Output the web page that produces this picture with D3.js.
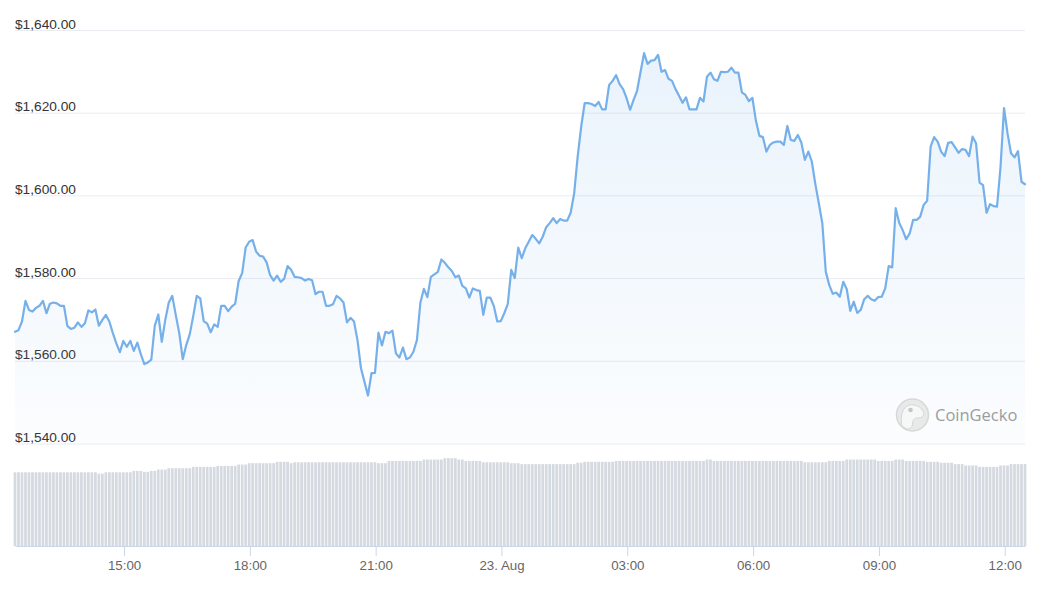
<!DOCTYPE html>
<html>
<head>
<meta charset="utf-8">
<script src="https://cdn.jsdelivr.net/npm/d3@7"></script>
<style>
  html, body { margin: 0; padding: 0; background: #fff; }
  svg { display: block; font-family: "Liberation Sans", Arial, Helvetica, sans-serif; }
</style>
</head>
<body>
<svg id="chart" width="1042" height="591"></svg>
<script>
// ETH / USD, 24h, 5 minute samples
var startTime = new Date(2022, 7, 22, 12, 24)
  , stepMinutes = 5
  ;

var prices = [
  1567.0, 1567.4, 1569.5, 1574.5, 1572.3, 1571.9, 1572.8, 1573.3, 1574.5, 1571.5,
  1573.8, 1574.1, 1573.9, 1573.3, 1573.3, 1568.4, 1567.7, 1568.0, 1569.3, 1568.2,
  1569.1, 1572.2, 1571.7, 1572.4, 1568.5, 1569.9, 1571.1, 1569.5, 1566.7, 1564.2,
  1562.1, 1564.8, 1563.4, 1564.8, 1562.4, 1564.4, 1561.6, 1559.2, 1559.6, 1560.3,
  1568.5, 1571.2, 1564.6, 1569.9, 1574.1, 1575.7, 1571.1, 1566.7, 1560.4, 1563.8,
  1566.4, 1570.8, 1575.7, 1575.1, 1569.6, 1569.0, 1566.9, 1568.8, 1568.2, 1573.3,
  1573.3, 1572.0, 1573.1, 1573.8, 1579.3, 1581.2, 1587.4, 1588.8, 1589.2, 1586.4,
  1585.4, 1585.2, 1583.8, 1580.7, 1579.4, 1580.6, 1579.1, 1579.8, 1582.9, 1582.0,
  1580.3, 1580.2, 1580.0, 1579.4, 1579.8, 1579.5, 1576.1, 1576.7, 1576.7, 1573.3,
  1573.3, 1573.7, 1575.7, 1575.1, 1574.1, 1569.3, 1570.4, 1569.5, 1565.0, 1558.2,
  1554.9, 1551.6, 1557.0, 1557.1, 1566.8, 1563.7, 1567.0, 1566.7, 1567.3, 1561.8,
  1560.8, 1563.2, 1560.4, 1560.8, 1562.2, 1565.0, 1574.1, 1577.4, 1575.4, 1580.3,
  1580.9, 1581.5, 1584.5, 1583.7, 1582.6, 1581.7, 1580.2, 1580.6, 1578.1, 1577.5,
  1575.3, 1577.5, 1577.1, 1576.9, 1571.1, 1575.3, 1575.3, 1573.3, 1569.5, 1569.6,
  1571.5, 1573.7, 1582.0, 1580.0, 1587.4, 1584.8, 1587.2, 1588.8, 1590.4, 1589.5,
  1588.4, 1590.0, 1592.3, 1593.3, 1594.5, 1593.3, 1594.3, 1593.9, 1593.9, 1595.8,
  1600.5, 1609.4, 1616.6, 1622.3, 1622.3, 1622.1, 1621.6, 1622.6, 1620.8, 1620.8,
  1626.7, 1627.7, 1629.1, 1626.9, 1625.7, 1623.5, 1620.7, 1623.1, 1625.3, 1629.9,
  1634.4, 1631.8, 1632.6, 1632.7, 1634.0, 1629.9, 1630.3, 1628.2, 1627.7, 1625.7,
  1624.1, 1622.4, 1623.7, 1620.8, 1620.8, 1620.8, 1623.6, 1622.7, 1628.7, 1629.7,
  1628.1, 1627.7, 1629.9, 1629.8, 1629.9, 1630.9, 1629.7, 1629.7, 1624.9, 1624.3,
  1622.8, 1623.6, 1618.1, 1614.4, 1614.1, 1610.6, 1612.2, 1612.8, 1613.0, 1613.0,
  1612.2, 1616.8, 1613.4, 1613.2, 1614.6, 1612.8, 1608.6, 1610.6, 1608.2, 1602.8,
  1598.1, 1593.3, 1581.5, 1578.3, 1576.2, 1576.5, 1575.5, 1579.1, 1577.3, 1572.1,
  1574.3, 1571.6, 1572.3, 1574.9, 1575.7, 1574.9, 1574.5, 1575.4, 1575.5, 1577.5,
  1582.9, 1582.6, 1596.9, 1593.4, 1591.6, 1589.4, 1590.8, 1594.1, 1594.1, 1594.8,
  1597.7, 1598.7, 1611.8, 1614.1, 1613.0, 1610.6, 1609.5, 1612.7, 1612.9, 1611.6,
  1610.3, 1611.2, 1611.0, 1609.5, 1614.2, 1612.6, 1603.1, 1602.5, 1595.8, 1597.9,
  1597.4, 1597.3, 1606.9, 1621.1, 1615.0, 1610.2, 1609.2, 1610.7, 1603.3, 1602.7
];

// total volume, billions USD
var volumes = [
  16.2, 16.2, 16.2, 16.2, 16.2, 16.2, 16.2, 16.2, 16.2, 16.2,
  16.2, 16.2, 16.2, 16.2, 16.2, 16.2, 16.2, 16.2, 16.2, 16.2,
  16.2, 16.2, 16.2, 16.2, 15.9, 15.9, 16.2, 16.2, 16.2, 16.2,
  16.2, 16.2, 16.2, 16.2, 16.5, 16.5, 16.5, 16.3, 16.3, 16.5,
  16.5, 16.8, 16.8, 16.8, 17.1, 17.1, 17.1, 17.1, 17.1, 17.1,
  17.1, 17.4, 17.4, 17.4, 17.4, 17.4, 17.4, 17.4, 17.6, 17.6,
  17.6, 17.6, 17.6, 17.6, 17.9, 17.9, 17.9, 18.2, 18.2, 18.2,
  18.2, 18.2, 18.2, 18.2, 18.2, 18.5, 18.5, 18.5, 18.5, 18.2,
  18.4, 18.4, 18.4, 18.4, 18.4, 18.4, 18.4, 18.4, 18.4, 18.4,
  18.4, 18.4, 18.4, 18.4, 18.4, 18.4, 18.4, 18.4, 18.4, 18.4,
  18.4, 18.4, 18.4, 18.4, 18.2, 18.2, 18.2, 18.7, 18.7, 18.7,
  18.7, 18.7, 18.7, 18.7, 18.7, 18.7, 18.7, 19.0, 19.0, 19.0,
  19.0, 19.0, 19.0, 19.3, 19.3, 19.3, 19.3, 19.0, 19.0, 18.7,
  18.7, 18.7, 18.7, 18.7, 18.4, 18.4, 18.4, 18.4, 18.4, 18.4,
  18.4, 18.4, 18.2, 18.2, 18.2, 18.0, 18.0, 18.0, 18.0, 18.0,
  18.0, 18.0, 18.0, 18.0, 18.0, 18.0, 18.0, 18.0, 18.0, 18.0,
  18.0, 18.3, 18.3, 18.5, 18.5, 18.5, 18.5, 18.5, 18.5, 18.5,
  18.5, 18.5, 18.7, 18.7, 18.7, 18.7, 18.7, 18.7, 18.7, 18.7,
  18.7, 18.7, 18.7, 18.7, 18.7, 18.7, 18.7, 18.7, 18.7, 18.7,
  18.7, 18.7, 18.7, 18.7, 18.7, 18.7, 18.7, 18.7, 19.0, 19.0,
  18.7, 18.7, 18.7, 18.7, 18.7, 18.7, 18.7, 18.7, 18.7, 18.7,
  18.7, 18.7, 18.7, 18.7, 18.7, 18.7, 18.7, 18.7, 18.7, 18.7,
  18.7, 18.7, 18.7, 18.7, 18.7, 18.7, 18.4, 18.4, 18.4, 18.4,
  18.4, 18.4, 18.4, 18.7, 18.7, 18.7, 18.7, 18.7, 19.0, 19.0,
  19.0, 19.0, 19.0, 19.0, 19.0, 19.0, 19.0, 18.7, 18.7, 18.7,
  18.7, 18.7, 19.0, 19.0, 19.0, 18.7, 18.7, 18.7, 18.7, 18.7,
  18.7, 18.5, 18.5, 18.5, 18.5, 18.3, 18.3, 18.3, 18.3, 18.0,
  18.0, 18.0, 17.7, 17.7, 17.7, 17.7, 17.4, 17.4, 17.4, 17.4,
  17.4, 17.4, 17.7, 17.7, 17.7, 18.0, 18.0, 18.0, 18.0, 18.0
];

var priceTicks = [1540, 1560, 1580, 1600, 1620, 1640];
var volumeDomain = [0, 20];

//------------------------------------------------------------

var left = 15
  , right = 1025
  , priceTop = 30
  , priceBottom = 443.5
  , volumeTop = 455
  , volumeBottom = 546
  , lineColor = '#76b0ea'
  ;

var data = prices.map(function(p, i) {
  return {
    t: new Date(+startTime + i * stepMinutes * 60000),
    price: p,
    volume: volumes[i]
  };
});

var svg = d3.select('#chart');

var x = d3.scaleTime()
    .domain(d3.extent(data, function(d) { return d.t }))
    .range([left, right]);

var y = d3.scaleLinear()
    .domain([priceTicks[0], priceTicks[priceTicks.length - 1]])
    .range([priceBottom, priceTop]);

var yVol = d3.scaleLinear()
    .domain(volumeDomain)
    .range([volumeBottom, volumeTop]);

// gradient for price area
var defs = svg.append('defs');
var grad = defs.append('linearGradient')
    .attr('id', 'areaFill')
    .attr('gradientUnits', 'userSpaceOnUse')
    .attr('x1', 0).attr('x2', 0)
    .attr('y1', priceTop).attr('y2', priceBottom);
grad.append('stop').attr('offset', 0).attr('stop-color', '#7cb5ec').attr('stop-opacity', 0.17);
grad.append('stop').attr('offset', 1).attr('stop-color', '#7cb5ec').attr('stop-opacity', 0.03);

//------------------------------------------------------------
// Price grid + labels

var yAxis = d3.axisRight(y)
    .tickValues(priceTicks)
    .tickSize(right - left)
    .tickFormat(d3.format('$,.2f'));

var gy = svg.append('g')
    .attr('transform', 'translate(' + left + ',0)')
    .call(yAxis);
gy.select('.domain').remove();
gy.selectAll('.tick line').attr('stroke', '#e9ecf1');
gy.selectAll('.tick text')
    .attr('x', 0)
    .attr('dy', null)
    .attr('y', -2)
    .attr('fill', '#333')
    .style('font-size', '13.7px')
    .style('font-family', '"Liberation Sans", Arial, sans-serif');

//------------------------------------------------------------
// Volume bars

var barW = (x(data[1].t) - x(data[0].t)) * 0.78;

svg.append('g').selectAll('rect')
    .data(data)
  .enter().append('rect')
    .attr('x', function(d) { return x(d.t) - barW / 2 })
    .attr('y', function(d) { return yVol(d.volume) })
    .attr('width', barW)
    .attr('height', function(d) { return yVol(0) - yVol(d.volume) })
    .attr('fill', '#d5d9e0');

//------------------------------------------------------------
// Price area + line

svg.append('path')
    .datum(data)
    .attr('fill', 'url(#areaFill)')
    .attr('d', d3.area()
      .x(function(d) { return x(d.t) })
      .y0(priceBottom)
      .y1(function(d) { return y(d.price) }));

svg.append('path')
    .datum(data)
    .attr('fill', 'none')
    .attr('stroke', lineColor)
    .attr('stroke-width', 2.2)
    .attr('stroke-linejoin', 'round')
    .attr('stroke-linecap', 'round')
    .attr('d', d3.line()
      .x(function(d) { return x(d.t) })
      .y(function(d) { return y(d.price) }));

//------------------------------------------------------------
// Time axis

var fmtDay = d3.timeFormat('%d. %b')
  , fmtHour = d3.timeFormat('%H:%M');

var xAxis = d3.axisBottom(x)
    .ticks(d3.timeHour.every(3))
    .tickSize(10)
    .tickSizeOuter(0)
    .tickFormat(function(d) { return d.getHours() === 0 ? fmtDay(d) : fmtHour(d) });

var gx = svg.append('g')
    .attr('transform', 'translate(0,' + volumeBottom + ')')
    .call(xAxis);
gx.select('.domain').attr('stroke', '#ccd6eb');
gx.selectAll('.tick line').attr('stroke', '#ccd6eb');
gx.selectAll('.tick text')
    .attr('dy', null)
    .attr('y', 24)
    .attr('fill', '#666')
    .style('font-size', '13.3px')
    .style('font-family', '"Liberation Sans", Arial, sans-serif');

//------------------------------------------------------------
// Watermark

var wm = svg.append('g').attr('transform', 'translate(912.5,415)').attr('opacity', 0.85);
wm.append('circle').attr('r', 16).attr('fill', '#e6e6e6').attr('stroke', '#d2d2d2').attr('stroke-width', 1.5);
wm.append('path')
    .attr('d', 'M-11,9 C-12,0 -10,-8 -3,-10 C3,-11 9,-8 11,-3 C12,1 9,3 5,3 C2,3 0,5 0,9 C0,12 -2,14 -5,14 C-8,13 -10,12 -11,9 Z')
    .attr('fill', '#f7f7f7')
    .attr('stroke', '#cfcfcf')
    .attr('stroke-width', 1);
wm.append('circle').attr('cx', -2).attr('cy', -5).attr('r', 2.3).attr('fill', '#bdbdbd');
svg.append('text')
    .attr('x', 935)
    .attr('y', 421)
    .attr('fill', '#9c9c9c')
    .style('font-size', '16.5px')
    .style('font-family', '"Open Sans", "Liberation Sans", Arial, sans-serif')
    .text('CoinGecko');
</script>
</body>
</html>
